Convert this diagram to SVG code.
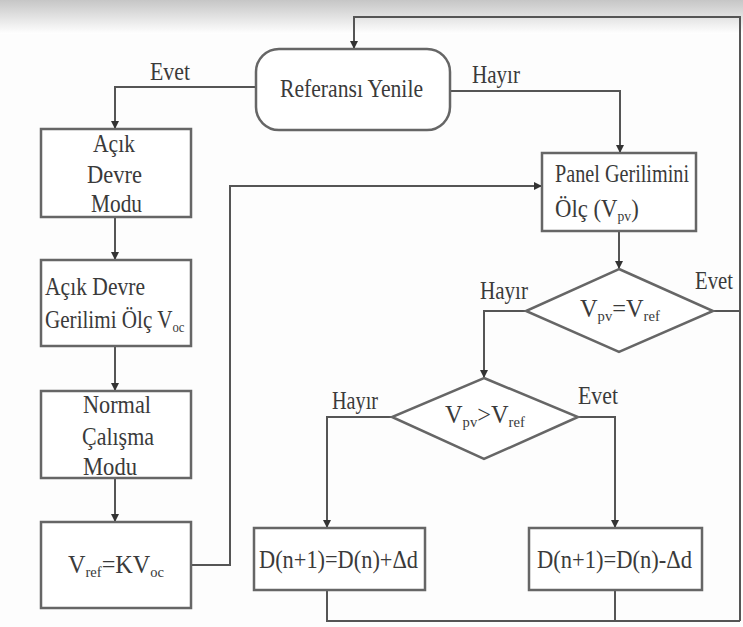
<svg xmlns="http://www.w3.org/2000/svg" width="743" height="627" viewBox="0 0 743 627">
<style>
.bx{fill:#fff;stroke:#666;stroke-width:2.5}
.cn{fill:none;stroke:#555;stroke-width:2}
.t{font-family:"Liberation Serif","Times New Roman",serif;font-size:25px;fill:#3a3a3a}
.s{font-size:15px}
</style>
<defs>
<linearGradient id="g" x1="0" y1="0" x2="0" y2="1">
<stop offset="0" stop-color="#c6c6c6"/>
<stop offset="1" stop-color="#ffffff"/>
</linearGradient>
<marker id="a" markerUnits="userSpaceOnUse" markerWidth="10" markerHeight="10" refX="8" refY="4" orient="auto">
<path d="M0,0 L8,4 L0,8 z" fill="#333"/>
</marker>
</defs>
<rect width="743" height="627" fill="#fdfdfd"/>
<rect width="743" height="34" fill="url(#g)"/>

<g id="connectors" class="cn">
<path d="M327,590 V621 H740"/>
<path d="M615,590 V621"/>
<path d="M740,621 V17 H354 V49" marker-end="url(#a)"/>
<path d="M256,87 H115 V129" marker-end="url(#a)"/>
<path d="M450,91 H620 V153" marker-end="url(#a)"/>
<path d="M115,217 V260" marker-end="url(#a)"/>
<path d="M115,346 V391" marker-end="url(#a)"/>
<path d="M115,478 V522" marker-end="url(#a)"/>
<path d="M191,565 H230 V186 H542" marker-end="url(#a)"/>
<path d="M619,231 V269" marker-end="url(#a)"/>
<path d="M713,311 H740"/>
<path d="M526,311 H484 V378" marker-end="url(#a)"/>
<path d="M392,417 H327 V528" marker-end="url(#a)"/>
<path d="M578,417 H615 V528" marker-end="url(#a)"/>
</g>

<g id="labels">
<text class="t" x="150" y="80" textLength="40" lengthAdjust="spacingAndGlyphs">Evet</text>
<text class="t" x="472" y="83" textLength="48" lengthAdjust="spacingAndGlyphs">Hayır</text>
<text class="t" x="480" y="299" textLength="48" lengthAdjust="spacingAndGlyphs">Hayır</text>
<text class="t" x="695" y="289" textLength="38" lengthAdjust="spacingAndGlyphs">Evet</text>
<text class="t" x="332" y="409" textLength="46" lengthAdjust="spacingAndGlyphs">Hayır</text>
<text class="t" x="578" y="404" textLength="40" lengthAdjust="spacingAndGlyphs">Evet</text>
</g>

<g id="n-referans">
<rect class="bx" x="256" y="49" width="194" height="81" rx="23"/>
<text class="t" x="280" y="97" textLength="143" lengthAdjust="spacingAndGlyphs">Referansı Yenile</text>
</g>

<g id="n-acik-devre-modu">
<rect class="bx" x="41" y="129" width="150" height="88"/>
<text class="t" x="93" y="152" textLength="42" lengthAdjust="spacingAndGlyphs">Açık</text>
<text class="t" x="87" y="183" textLength="55" lengthAdjust="spacingAndGlyphs">Devre</text>
<text class="t" x="91" y="212" textLength="51" lengthAdjust="spacingAndGlyphs">Modu</text>
</g>

<g id="n-acik-devre-gerilimi">
<rect class="bx" x="41" y="260" width="150" height="86"/>
<text class="t" x="45" y="295" textLength="100" lengthAdjust="spacingAndGlyphs">Açık Devre</text>
<text class="t" transform="translate(45,328) scale(0.845,1)">Gerilimi Ölç V<tspan class="s" dy="4">oc</tspan></text>
</g>

<g id="n-normal">
<rect class="bx" x="41" y="391" width="150" height="87"/>
<text class="t" x="83" y="413" textLength="68" lengthAdjust="spacingAndGlyphs">Normal</text>
<text class="t" x="82" y="445" textLength="72" lengthAdjust="spacingAndGlyphs">Çalışma</text>
<text class="t" x="83" y="475" textLength="54" lengthAdjust="spacingAndGlyphs">Modu</text>
</g>

<g id="n-vref">
<rect class="bx" x="41" y="522" width="150" height="86"/>
<text class="t" transform="translate(68,573) scale(0.97,1)">V<tspan class="s" dy="4">ref</tspan><tspan dy="-4">=KV</tspan><tspan class="s" dy="4">oc</tspan></text>
</g>

<g id="n-panel">
<rect class="bx" x="542" y="153" width="154" height="78"/>
<text class="t" x="555" y="182" textLength="134" lengthAdjust="spacingAndGlyphs">Panel Gerilimini</text>
<text class="t" transform="translate(555,217) scale(0.91,1)">Ölç (V<tspan class="s" dy="4">pv</tspan><tspan dy="-4">)</tspan></text>
</g>

<g id="n-vpv-eq">
<polygon class="bx" points="619,269 713,311 619,352 526,311"/>
<text class="t" transform="translate(580,317) scale(0.975,1)">V<tspan class="s" dy="4">pv</tspan><tspan dy="-4">=V</tspan><tspan class="s" dy="4">ref</tspan></text>
</g>

<g id="n-vpv-gt">
<polygon class="bx" points="484,378 578,417 484,459 392,417"/>
<text class="t" transform="translate(445,423) scale(0.975,1)">V<tspan class="s" dy="4">pv</tspan><tspan dy="-4">&gt;V</tspan><tspan class="s" dy="4">ref</tspan></text>
</g>

<g id="n-d-plus">
<rect class="bx" x="254" y="528" width="171" height="62"/>
<text class="t" x="259" y="568" textLength="159" lengthAdjust="spacingAndGlyphs">D(n+1)=D(n)+Δd</text>
</g>

<g id="n-d-minus">
<rect class="bx" x="529" y="528" width="173" height="62"/>
<text class="t" x="537" y="568" textLength="155" lengthAdjust="spacingAndGlyphs">D(n+1)=D(n)-Δd</text>
</g>
</svg>
